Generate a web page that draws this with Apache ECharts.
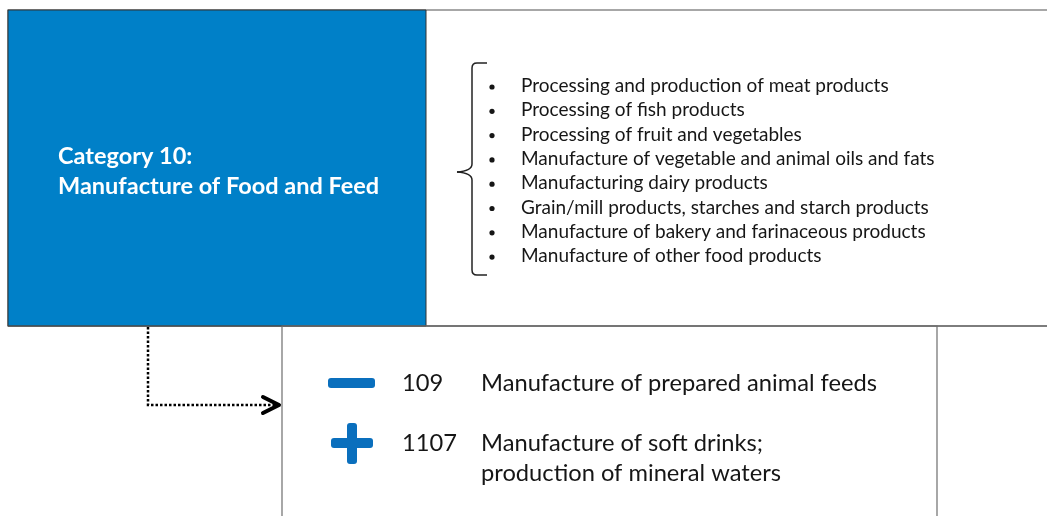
<!DOCTYPE html>
<html>
<head>
<meta charset="utf-8">
<script src="https://cdn.jsdelivr.net/npm/echarts@6/dist/echarts.min.js"></script>
<style>
  html, body { margin: 0; padding: 0; background: #fff; }
  #main { width: 1047px; height: 516px; }
</style>
</head>
<body>
<div id="main"></div>
<script>
// data
var categoryTitle = ['Category 10:', 'Manufacture of Food and Feed'];
var subItems = [
  'Processing and production of meat products',
  'Processing of fish products',
  'Processing of fruit and vegetables',
  'Manufacture of vegetable and animal oils and fats',
  'Manufacturing dairy products',
  'Grain/mill products, starches and starch products',
  'Manufacture of bakery and farinaceous products',
  'Manufacture of other food products'
];
var changeTypes = ['minus', 'plus'];
var changeCodes = ['109', '1107'];
var changeTexts = [
  ['Manufacture of prepared animal feeds'],
  ['Manufacture of soft drinks;', 'production of mineral waters']
];

var myChart = echarts.init(document.getElementById('main'));

var FONT = 'Lato, "Open Sans", sans-serif';
var blue = '#0080c8';
var iconBlue = '#0a6fbd';
var textColor = '#161616';

var elements = [];

// upper frame
elements.push({
  type: 'rect',
  shape: { x: 8, y: 10, width: 1060, height: 316 },
  style: { fill: '#fff', stroke: '#8a8a8a', lineWidth: 1.5 }
});
elements.push({
  type: 'rect',
  shape: { x: 8, y: 10, width: 418, height: 316 },
  style: { fill: blue, stroke: '#333', lineWidth: 1 }
});
elements.push({
  type: 'line',
  shape: { x1: 8, y1: 326, x2: 1047, y2: 326 },
  style: { stroke: '#555', lineWidth: 1.2 }
});

// category title
categoryTitle.forEach(function (t, i) {
  elements.push({
    type: 'text',
    style: {
      text: t, x: 58, y: 156 + i * 30,
      font: 'bold 23.5px ' + FONT, fill: '#fff',
      align: 'left', verticalAlign: 'middle'
    }
  });
});

// brace
var braceLines = [
  [[487, 63], [477, 63]],
  [[472, 68], [472, 164]],
  [[472, 180], [472, 270]],
  [[477, 275], [487, 275]]
];
braceLines.forEach(function (p) {
  elements.push({
    type: 'line',
    shape: { x1: p[0][0], y1: p[0][1], x2: p[1][0], y2: p[1][1] },
    style: { stroke: '#222', lineWidth: 1.5 }
  });
});
var braceCurves = [
  [[477, 63], [472, 63], [472, 68]],
  [[472, 164], [472, 171], [457, 172]],
  [[457, 172], [472, 173], [472, 180]],
  [[472, 270], [472, 275], [477, 275]]
];
braceCurves.forEach(function (c) {
  elements.push({
    type: 'bezierCurve',
    shape: { x1: c[0][0], y1: c[0][1], cpx1: c[1][0], cpy1: c[1][1], x2: c[2][0], y2: c[2][1] },
    style: { fill: 'none', stroke: '#222', lineWidth: 1.5 }
  });
});

// sub items
var rowTop = 86, rowStep = 24.3;
subItems.forEach(function (t, i) {
  var y = rowTop + i * rowStep;
  elements.push({
    type: 'circle',
    shape: { cx: 492, cy: y + 1, r: 2.6 },
    style: { fill: textColor }
  });
  elements.push({
    type: 'text',
    style: {
      text: t, x: 521, y: y,
      font: '19px ' + FONT, fill: textColor,
      align: 'left', verticalAlign: 'middle'
    }
  });
});

// lower box
elements.push({
  type: 'rect',
  shape: { x: 282, y: 326, width: 655, height: 200 },
  style: { fill: 'none', stroke: '#6e6e6e', lineWidth: 1.2 }
});

// dotted connector
elements.push({
  type: 'polyline',
  shape: { points: [[148, 327], [148, 405], [276, 405]] },
  style: { fill: 'none', stroke: '#000', lineWidth: 2.5, lineDash: [2.5, 2] }
});
elements.push({
  type: 'polyline',
  shape: { points: [[263, 397], [279, 405], [263, 413]] },
  style: { fill: 'none', stroke: '#000', lineWidth: 4, lineCap: 'round', lineJoin: 'round' }
});

// changes
var changeRowY = [383, 443];
changeTypes.forEach(function (kind, i) {
  var cy = changeRowY[i];
  if (kind === 'minus') {
    elements.push({
      type: 'rect',
      shape: { x: 328, y: cy - 5, width: 47, height: 10, r: 3 },
      style: { fill: iconBlue }
    });
  } else {
    elements.push({
      type: 'rect',
      shape: { x: 331, y: cy - 5, width: 42, height: 10, r: 3 },
      style: { fill: iconBlue }
    });
    elements.push({
      type: 'rect',
      shape: { x: 347, y: cy - 20, width: 10, height: 41, r: 3 },
      style: { fill: iconBlue }
    });
  }
  elements.push({
    type: 'text',
    style: {
      text: changeCodes[i], x: 402, y: cy,
      font: '23.7px ' + FONT, fill: textColor,
      align: 'left', verticalAlign: 'middle'
    }
  });
  changeTexts[i].forEach(function (line, j) {
    elements.push({
      type: 'text',
      style: {
        text: line, x: 481, y: cy + j * 30,
        font: '23.7px ' + FONT, fill: textColor,
        align: 'left', verticalAlign: 'middle'
      }
    });
  });
});

var option = {
  animation: false,
  graphic: { elements: elements }
};

myChart.setOption(option);
window.onresize = function () {
  myChart.resize();
};
</script>
</body>
</html>
